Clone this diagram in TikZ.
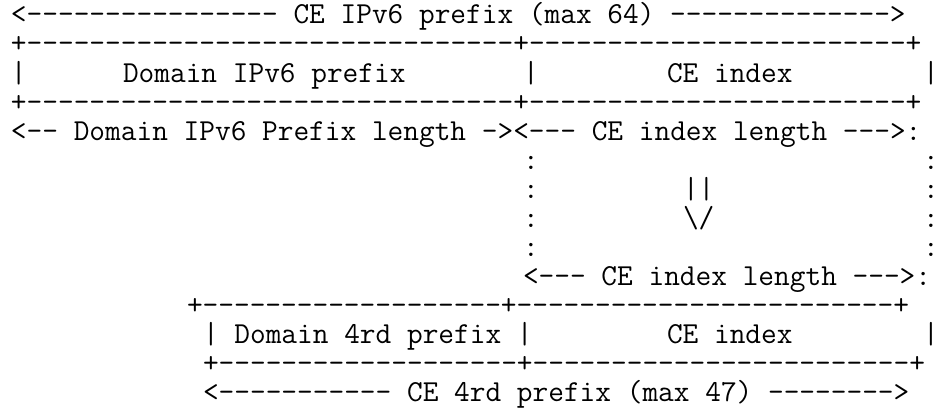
\documentclass[tikz,border=0pt]{standalone}
\usepackage{tikz}
\usetikzlibrary{positioning}
\newcommand\asciifont{\fontsize{22.86pt}{26pt}\selectfont\ttfamily}
\newcommand\dashes[1]{\foreach\k in {1,...,#1}{-}}
\tikzset{
	ascii/.style={
		font=\asciifont,
		inner sep=0pt,
		outer sep=0pt,
		anchor=base west},
}

\begin{document}
\begin{tikzpicture}[x=12pt, y=-21.75pt]
	\useasboundingbox (-0.6875,0.1724) rectangle (58.125,14.3103);
	% IPv6 side
	\node[ascii] (ceprefix) at (0,1) {<\dashes{16} CE IPv6 prefix (max 64) \dashes{14}>};
	\node[ascii] (toprule) at (0,2) {+\dashes{31}+\dashes{24}+};
	\node[ascii] (lbar) at (0,3) {|};
	\node[ascii] (domprefix) at (7,3) {Domain IPv6 prefix};
	\node[ascii] (mbar) at (32,3) {|};
	\node[ascii] (ceindex) at (41,3) {CE index};
	\node[ascii] (rbar) at (57,3) {|};
	\node[ascii] (botrule) at (0,4) {+\dashes{31}+\dashes{24}+};
	\node[ascii] (lengths) at (0,5) {<\dashes{2} Domain IPv6 Prefix length -><\dashes{3} CE index length \dashes{3}>:};
	% mapping down
	\foreach \r in {6,...,9} {
		\node[ascii] (lcol\r) at (32,\r) {:};
		\node[ascii] (rcol\r) at (57,\r) {:};
	}
	\node[ascii] (shaft) at (42,7) {||};
	\node[ascii] (head) at (42,8) {\textbackslash/};
	\node[ascii] (indexlen) at (32,10) {<\dashes{3} CE index length \dashes{3}>:};
	% 4rd side
	\node[ascii] (toprulefour) at (11,11) {+\dashes{19}+\dashes{24}+};
	\node[ascii] (domfour) at (12,12) {| Domain 4rd prefix |};
	\node[ascii] (ceindexfour) at (41,12) {CE index};
	\node[ascii] (rbarfour) at (57,12) {|};
	\node[ascii] (botrulefour) at (12,13) {+\dashes{19}+\dashes{24}+};
	\node[ascii] (fourprefix) at (12,14) {<\dashes{11} CE 4rd prefix (max 47) \dashes{8}>};
\end{tikzpicture}
\end{document}
